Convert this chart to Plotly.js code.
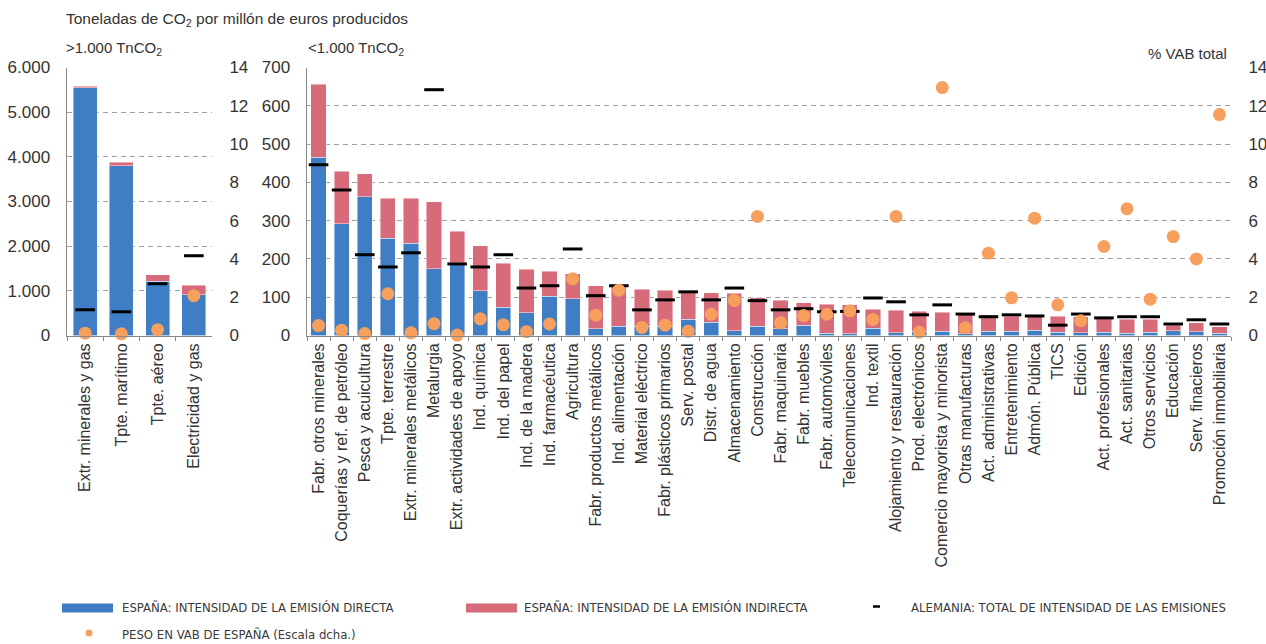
<!DOCTYPE html>
<html>
<head>
<meta charset="utf-8">
<script src="https://cdn.plot.ly/plotly-3.0.1.min.js"></script>
<style>
html,body{margin:0;padding:0;background:#fff;}
#chart{width:1266px;height:644px;}
</style>
</head>
<body>
<div id="chart"></div>
<script>
// ---------- DATA ----------
const leftCats = ['Extr. minerales y gas','Tpte. marítimo','Tpte. aéreo','Electricidad y gas'];
const leftDirect = [5543, 3803, 1217, 912];
const leftIndirect = [37, 74, 143, 209];
const leftGermany = [576, 531, 1159, 1786];
const leftVab = [0.12, 0.09, 0.30, 2.08];

const rightCats = ['Fabr. otros minerales','Coquerías y ref. de petróleo','Pesca y acuicultura','Tpte. terrestre',
 'Extr. minerales metálicos','Metalurgia','Extr. actividades de apoyo','Ind. química','Ind. del papel',
 'Ind. de la madera','Ind. farmacéutica','Agricultura','Fabr. productos metálicos','Ind. alimentación',
 'Material eléctrico','Fabr. plásticos primarios','Serv. postal','Distr. de agua','Almacenamiento',
 'Construcción','Fabr. maquinaria','Fabr. muebles','Fabr. automóviles','Telecomunicaciones','Ind. textil',
 'Alojamiento y restauración','Prod. electrónicos','Comercio mayorista y minorista','Otras manufacturas',
 'Act. administrativas','Entretenimiento','Admón. Pública','TICS','Edición','Act. profesionales',
 'Act. sanitarias','Otros servicios','Educación','Serv. finacieros','Promoción inmobiliaria'];
const rightDirect = [466,292,363,254,241,174,190,117,74,60,103,96,17,24,24,24,43,34,13,24,
 17,27,6,5,19,7,11,11,5,11,11,14,9,7,9,6,9,12,10,6];
const rightIndirect = [190,137,59,104,117,176,82,118,115,113,65,65,113,108,97,94,74,78,97,75,
 75,58,76,75,49,59,53,50,50,43,39,35,41,42,39,36,33,15,23,17];
const rightGermany = [446,380,211,179,216,642,187,179,211,124,130,226,104,130,67,93,114,93,124,91,
 67,70,62,63,98,88,54,80,56,49,54,51,27,56,46,49,49,30,41,30];
const rightVab = [0.52,0.28,0.10,2.18,0.14,0.62,0.02,0.87,0.56,0.20,0.60,2.96,1.06,2.37,0.42,0.54,0.22,1.11,1.83,6.22,
 0.66,1.04,1.11,1.29,0.84,6.22,0.17,12.95,0.40,4.30,1.97,6.13,1.60,0.77,4.65,6.62,1.90,5.17,4.00,11.54];

const leftTickVals = [0,1000,2000,3000,4000,5000,6000];
const leftTickText = ['0','1.000','2.000','3.000','4.000','5.000','6.000'];

const legendLabels = ['ESPAÑA: INTENSIDAD DE LA EMISIÓN DIRECTA','ESPAÑA: INTENSIDAD DE LA EMISIÓN INDIRECTA',
 'ALEMANIA: TOTAL DE INTENSIDAD DE LAS EMISIONES','PESO EN VAB DE ESPAÑA (Escala dcha.)'];

// ---------- STYLE ----------
const W = 1266, H = 644;
const BLUE = '#3F7EC4', RED = '#D86B79', ORANGE = '#F7A05E';
const FONT = '"Liberation Sans", Arial, Helvetica, sans-serif';
const NARROW = '"Liberation Sans Narrow", "Arial Narrow", "DejaVu Sans Condensed", sans-serif';
const TXT = '#333333';
const px = x => x / W;
const py = y => 1 - y / H;
const yDom = [py(335.5), py(67.5)];
const barLine = {color:'rgba(255,255,255,0.55)', width:0.8};

const traces = [
  {type:'bar', x:leftCats, y:leftDirect, xaxis:'x', yaxis:'y', marker:{color:BLUE, line:barLine}, name:legendLabels[0]},
  {type:'bar', x:leftCats, y:leftIndirect, xaxis:'x', yaxis:'y', marker:{color:RED, line:barLine}, name:legendLabels[1]},
  {type:'scatter', mode:'markers', x:leftCats, y:leftGermany, xaxis:'x', yaxis:'y',
   marker:{symbol:'line-ew', size:14, line:{color:'#000', width:3}}, cliponaxis:false, name:legendLabels[2]},
  {type:'scatter', mode:'markers', x:leftCats, y:leftVab, xaxis:'x', yaxis:'y2',
   marker:{color:ORANGE, size:13}, cliponaxis:false, name:legendLabels[3]},

  {type:'bar', x:rightCats, y:rightDirect, xaxis:'x2', yaxis:'y3', marker:{color:BLUE, line:barLine}, name:legendLabels[0]},
  {type:'bar', x:rightCats, y:rightIndirect, xaxis:'x2', yaxis:'y3', marker:{color:RED, line:barLine}, name:legendLabels[1]},
  {type:'scatter', mode:'markers', x:rightCats, y:rightGermany, xaxis:'x2', yaxis:'y3',
   marker:{symbol:'line-ew', size:14, line:{color:'#000', width:3}}, cliponaxis:false, name:legendLabels[2]},
  {type:'scatter', mode:'markers', x:rightCats, y:rightVab, xaxis:'x2', yaxis:'y4',
   marker:{color:ORANGE, size:13}, cliponaxis:false, name:legendLabels[3]}
];

const xCommon = {
  type:'category', showline:true, linecolor:'#8a8a8a', linewidth:1.5,
  ticks:'outside', tickson:'boundaries', ticklen:4, tickcolor:'#8a8a8a', tickwidth:1,
  tickangle:-90, tickfont:{family:FONT, size:16, color:TXT}, showgrid:false, zeroline:false, fixedrange:true
};
const yLeftCommon = {
  showline:true, linecolor:'#8a8a8a', linewidth:1.5, ticks:'outside', ticklen:12, tickcolor:'rgba(0,0,0,0)',
  tickfont:{family:FONT, size:17, color:TXT}, showgrid:true, gridcolor:'#a0a0a0', gridwidth:1,
  griddash:'5px,4px', zeroline:false, domain:yDom, fixedrange:true
};
const yRightCommon = {
  side:'right', range:[0,14], tickvals:[0,2,4,6,8,10,12,14], showline:false, showgrid:false, zeroline:false,
  ticks:'outside', ticklen:13, tickcolor:'rgba(0,0,0,0)', tickfont:{family:FONT, size:17, color:TXT}, fixedrange:true
};

const annotations = [
  {text:'Toneladas de CO<sub>2</sub> por millón de euros producidos', x:px(64), y:py(20), font:{family:FONT, size:15.5, color:TXT}},
  {text:'&gt;1.000 TnCO<sub>2</sub>', x:px(64), y:py(48)},
  {text:'&lt;1.000 TnCO<sub>2</sub>', x:px(306), y:py(48)},
  {text:'% VAB total', x:px(1229), y:py(53), xanchor:'right'}
].map(a => Object.assign({xref:'paper', yref:'paper', xanchor:'left', yanchor:'middle', showarrow:false,
  font:{family:FONT, size:15, color:TXT}}, a));

// legend (manual, as in the original)
const legItems = [
  {x:120, y:607.5, t:legendLabels[0]},
  {x:522, y:607.5, t:legendLabels[1]},
  {x:909, y:607.5, t:legendLabels[2]},
  {x:120, y:634, t:legendLabels[3]}
];
legItems.forEach(l => annotations.push({text:l.t, x:px(l.x), y:py(l.y), xref:'paper', yref:'paper',
  xanchor:'left', yanchor:'middle', showarrow:false, font:{family:NARROW, size:13, color:'#3a3a3a'}}));

const shapes = [
  {type:'rect', xref:'paper', yref:'paper', x0:px(62), x1:px(113), y0:py(612.5), y1:py(603.5), fillcolor:BLUE, line:{width:0}},
  {type:'rect', xref:'paper', yref:'paper', x0:px(466), x1:px(517), y0:py(612.5), y1:py(603.5), fillcolor:RED, line:{width:0}},
  {type:'line', xref:'paper', yref:'paper', x0:px(873), x1:px(880), y0:py(606.5), y1:py(606.5), line:{color:'#000', width:2.5}},
  {type:'circle', xref:'paper', yref:'paper', x0:px(85.5), x1:px(92.5), y0:py(636.5), y1:py(629.5), fillcolor:ORANGE, line:{width:0}}
];

const layout = {
  width:W, height:H, margin:{l:0, r:0, t:0, b:0},
  paper_bgcolor:'#fff', plot_bgcolor:'rgba(0,0,0,0)',
  barmode:'stack', bargap:0.34, showlegend:false, hovermode:false,
  font:{family:FONT, color:TXT},
  xaxis:Object.assign({}, xCommon, {domain:[px(67), px(212)], anchor:'y', range:[-0.5, leftCats.length - 0.5]}),
  yaxis:Object.assign({}, yLeftCommon, {range:[0,6000], tickvals:leftTickVals, ticktext:leftTickText, anchor:'x'}),
  yaxis2:Object.assign({}, yRightCommon, {overlaying:'y', anchor:'x', domain:yDom}),
  xaxis2:Object.assign({}, xCommon, {domain:[px(307), px(1231)], anchor:'y3', range:[-0.5, rightCats.length - 0.5]}),
  yaxis3:Object.assign({}, yLeftCommon, {range:[0,700], dtick:100, tick0:0, anchor:'x2'}),
  yaxis4:Object.assign({}, yRightCommon, {overlaying:'y3', anchor:'x2', domain:yDom}),
  annotations:annotations, shapes:shapes
};

Plotly.newPlot('chart', traces, layout, {staticPlot:true, displayModeBar:false});
</script>
</body>
</html>
